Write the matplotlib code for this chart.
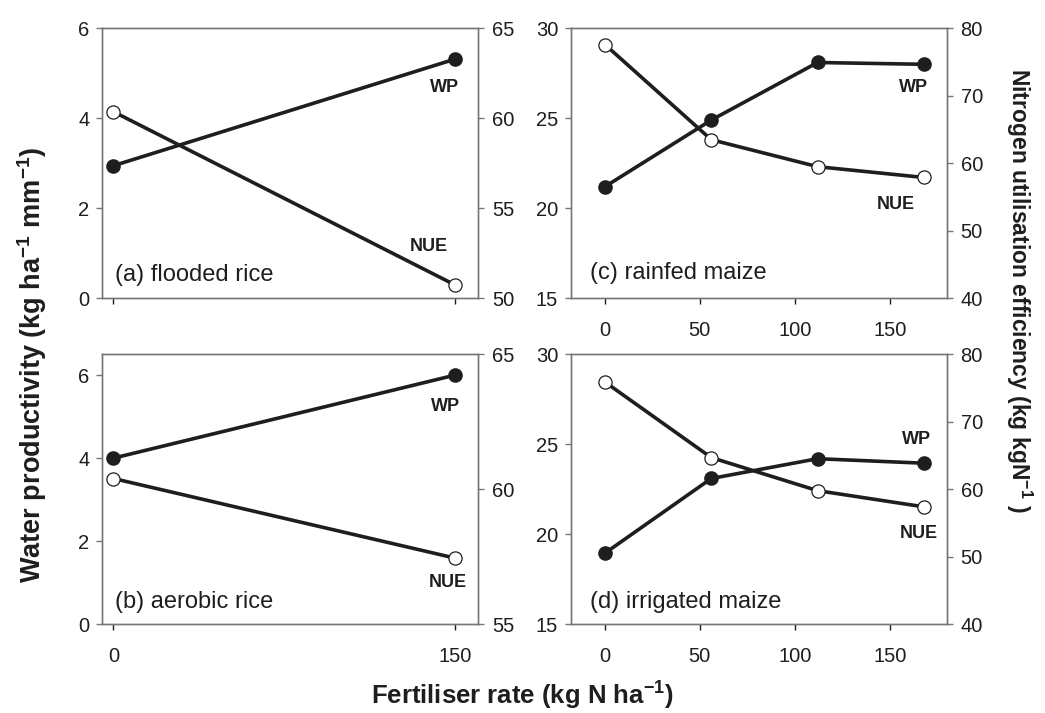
import matplotlib
matplotlib.use("Agg")
import matplotlib.pyplot as plt

plt.rcParams['font.family'] = ['Liberation Sans', 'DejaVu Sans']
plt.rcParams['mathtext.fontset'] = 'custom'
plt.rcParams['mathtext.rm'] = 'Liberation Sans'
plt.rcParams['mathtext.bf'] = 'Liberation Sans:bold'

# fertiliser rates (kg N/ha)
x_rice = [0, 150]
x_maize = [0, 56, 112, 168]

# water productivity (left axis) and nitrogen use efficiency (right axis)
wp_flooded = [2.94, 5.31]
nue_flooded = [60.35, 50.72]
wp_aerobic = [4.0, 6.0]
nue_aerobic = [60.4, 57.45]
wp_rainfed = [21.2, 24.9, 28.1, 28.0]
nue_rainfed = [77.6, 63.5, 59.5, 57.9]
wp_irrigated = [18.95, 23.1, 24.2, 23.95]
nue_irrigated = [75.9, 64.7, 59.8, 57.4]

titles = ["(a) flooded rice", "(b) aerobic rice", "(c) rainfed maize", "(d) irrigated maize"]

ink = '#1e1e1e'
spine = '#777777'

fig = plt.figure(figsize=(10.45, 7.13), dpi=100)

W = 376 / 1045
H = 270 / 713
boxes = [
    [102 / 1045, 1 - 298 / 713, W, H],
    [102 / 1045, 1 - 624.3 / 713, W, H],
    [570.7 / 1045, 1 - 298.3 / 713, W, H],
    [570.7 / 1045, 1 - 624.3 / 713, W, H],
]

panels = [
    (x_rice, wp_flooded, nue_flooded, (-5, 160), [0, 150], (0, 6), [0, 2, 4, 6], (50, 65), [50, 55, 60, 65], False),
    (x_rice, wp_aerobic, nue_aerobic, (-5, 160), [0, 150], (0, 6.5), [0, 2, 4, 6], (55, 65), [55, 60, 65], True),
    (x_maize, wp_rainfed, nue_rainfed, (-18, 180), [0, 50, 100, 150], (15, 30), [15, 20, 25, 30], (40, 80), [40, 50, 60, 70, 80], True),
    (x_maize, wp_irrigated, nue_irrigated, (-18, 180), [0, 50, 100, 150], (15, 30), [15, 20, 25, 30], (40, 80), [40, 50, 60, 70, 80], True),
]

# label positions in axes fraction: (title), (WP), (NUE)
label_pos = [
    ((0.035, 0.085), (0.912, 0.781), (0.870, 0.189)),
    ((0.035, 0.084), (0.915, 0.808), (0.920, 0.156)),
    ((0.051, 0.093), (0.913, 0.781), (0.865, 0.348)),
    ((0.051, 0.084), (0.920, 0.686), (0.927, 0.337)),
]

for i, (x, wp, nue, xl, xt, yl, yt, y2l, y2t, show_x) in enumerate(panels):
    ax = fig.add_axes(boxes[i])
    ax2 = ax.twinx()
    ax.plot(x, wp, color=ink, lw=2.6, marker='o', ms=9.5, mfc=ink, mec=ink, zorder=3)
    ax2.plot(x, nue, color=ink, lw=2.6, marker='o', ms=9.5, mfc='white', mec=ink, mew=0.9, zorder=3)
    ax.set_xlim(*xl)
    ax.set_xticks(xt)
    ax.set_ylim(*yl)
    ax.set_yticks(yt)
    ax2.set_ylim(*y2l)
    ax2.set_yticks(y2t)
    if not show_x:
        ax.set_xticklabels([])
    for a in (ax, ax2):
        for s in a.spines.values():
            s.set_color(spine)
            s.set_linewidth(1.0)
        a.tick_params(direction='out', length=4, width=1.0, color=spine,
                      labelsize=14.5, labelcolor=ink)
    ax.tick_params(axis='x', pad=12, color=ink)
    ax.tick_params(axis='y', pad=5)
    ax2.tick_params(axis='y', pad=6)

    tp, wpp, np_ = label_pos[i]
    ax.text(tp[0], tp[1], titles[i], transform=ax.transAxes, fontsize=17,
            color=ink, ha='left', va='center')
    ax.text(wpp[0], wpp[1], "WP", transform=ax.transAxes, fontsize=13,
            fontweight='bold', color=ink, ha='center', va='center')
    ax.text(np_[0], np_[1], "NUE", transform=ax.transAxes, fontsize=13,
            fontweight='bold', color=ink, ha='center', va='center')

fig.text(0.031, 0.488, r'Water productivity (kg ha$^{\mathbf{-1}}$ mm$^{\mathbf{-1}}$)',
         rotation=90, ha='center', va='center', fontsize=19.5, fontweight='bold', color=ink)
fig.text(0.975, 0.593, r'Nitrogen utilisation efficiency (kg kgN$^{\mathbf{-1}}$ )',
         rotation=270, ha='center', va='center', fontsize=16.5, fontweight='bold', color=ink)
fig.text(0.5, 0.013, r'Fertiliser rate (kg N ha$^{\mathbf{-1}}$)',
         ha='center', va='baseline', fontsize=18.5, fontweight='bold', color=ink)

fig.savefig("out.png", dpi=100)
